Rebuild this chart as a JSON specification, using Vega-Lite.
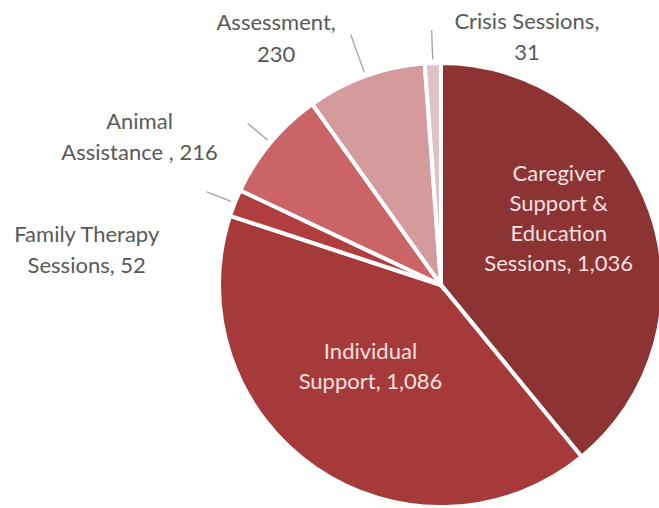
{
  "$schema": "https://vega.github.io/schema/vega-lite/v6.json",
  "width": 440,
  "height": 440,
  "autosize": "none",
  "padding": {"left": 221, "top": 65, "right": 0, "bottom": 0},
  "background": "white",
  "config": {"view": {"stroke": null}},
  "data": {
    "values": [
      {"category": "Caregiver Support & Education Sessions", "value": 1036, "rank": 1, "label": "Caregiver\nSupport &\nEducation\nSessions, 1,036"},
      {"category": "Individual Support", "value": 1086, "rank": 2, "label": "Individual\nSupport, 1,086"},
      {"category": "Family Therapy Sessions", "value": 52, "rank": 3, "label": "Family Therapy\nSessions, 52"},
      {"category": "Animal Assistance", "value": 216, "rank": 4, "label": "Animal\nAssistance , 216"},
      {"category": "Assessment", "value": 230, "rank": 5, "label": "Assessment,\n230"},
      {"category": "Crisis Sessions", "value": 31, "rank": 6, "label": "Crisis Sessions,\n31"}
    ]
  },
  "encoding": {
    "theta": {"field": "value", "type": "quantitative", "stack": true},
    "order": {"field": "rank", "type": "quantitative"}
  },
  "layer": [
    {
      "mark": {"type": "arc", "outerRadius": 222, "stroke": "white", "strokeWidth": 4},
      "encoding": {
        "color": {
          "field": "category",
          "type": "nominal",
          "legend": null,
          "scale": {
            "domain": ["Caregiver Support & Education Sessions", "Individual Support", "Family Therapy Sessions", "Animal Assistance", "Assessment", "Crisis Sessions"],
            "range": ["#8C3334", "#A63A3B", "#B03E3F", "#CB6466", "#D49A9C", "#DFC2C3"]
          }
        }
      }
    },
    {
      "mark": {"type": "arc", "innerRadius": 226, "outerRadius": 266, "padAngle": 3, "fill": "transparent", "stroke": "#A0A0A0", "strokeWidth": 1.3},
      "encoding": {"strokeOpacity": {"condition": {"test": "datum.rank == 5", "value": 1}, "value": 0}}
    },
    {
      "mark": {"type": "arc", "innerRadius": 226, "outerRadius": 255, "padAngle": 3, "fill": "transparent", "stroke": "#A0A0A0", "strokeWidth": 1.3},
      "encoding": {"strokeOpacity": {"condition": {"test": "datum.rank == 6", "value": 1}, "value": 0}}
    },
    {
      "mark": {"type": "arc", "innerRadius": 226, "outerRadius": 252, "padAngle": 3, "fill": "transparent", "stroke": "#A0A0A0", "strokeWidth": 1.3},
      "encoding": {"strokeOpacity": {"condition": {"test": "datum.rank == 4 || datum.rank == 3", "value": 1}, "value": 0}}
    },
    {
      "mark": {"type": "text", "radius": 125, "dy": -69, "fill": "#F6E0E0", "font": "Lato", "fontSize": 22, "lineHeight": 30, "lineBreak": "\n", "align": "center", "baseline": "middle"},
      "encoding": {"text": {"condition": {"test": "datum.rank == 1", "field": "label", "type": "nominal"}, "value": ""}}
    },
    {
      "mark": {"type": "text", "radius": 100, "dx": -14, "dy": -15, "fill": "#F6E0E0", "font": "Lato", "fontSize": 22, "lineHeight": 30, "lineBreak": "\n", "align": "center", "baseline": "middle"},
      "encoding": {"text": {"condition": {"test": "datum.rank == 2", "field": "label", "type": "nominal"}, "value": ""}}
    },
    {
      "mark": {"type": "text", "radius": 95, "dx": -266, "dy": -15, "fill": "#595959", "font": "Lato", "fontSize": 22, "lineHeight": 31, "lineBreak": "\n", "align": "center", "baseline": "middle"},
      "encoding": {"text": {"condition": {"test": "datum.rank == 3", "field": "label", "type": "nominal"}, "value": ""}}
    },
    {
      "mark": {"type": "text", "radius": 230, "dx": -125, "dy": -15, "fill": "#595959", "font": "Lato", "fontSize": 22, "lineHeight": 31, "lineBreak": "\n", "align": "center", "baseline": "middle"},
      "encoding": {"text": {"condition": {"test": "datum.rank == 4", "field": "label", "type": "nominal"}, "value": ""}}
    },
    {
      "mark": {"type": "text", "radius": 262, "dx": -76, "dy": -16, "fill": "#595959", "font": "Lato", "fontSize": 22, "lineHeight": 32, "lineBreak": "\n", "align": "center", "baseline": "middle"},
      "encoding": {"text": {"condition": {"test": "datum.rank == 5", "field": "label", "type": "nominal"}, "value": ""}}
    },
    {
      "mark": {"type": "text", "radius": 248, "dx": 95, "dy": -15, "fill": "#595959", "font": "Lato", "fontSize": 22, "lineHeight": 31, "lineBreak": "\n", "align": "center", "baseline": "middle"},
      "encoding": {"text": {"condition": {"test": "datum.rank == 6", "field": "label", "type": "nominal"}, "value": ""}}
    }
  ]
}
